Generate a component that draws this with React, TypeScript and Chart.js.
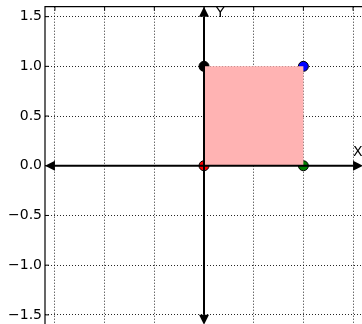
import { useEffect, useRef } from "react";
import { Chart, registerables } from "chart.js";

Chart.register(...registerables);

const axisMin = -1.6;
const axisMax = 1.6;
const tickValues = [-1.5, -1, -0.5, 0, 0.5, 1, 1.5];
const tickLabels = ["−1.5", "−1.0", "−0.5", "0.0", "0.5", "1.0", "1.5"];

const pointX = [0, 1, 0, 1];
const pointY = [1, 1, 0, 0];
const pointColors = ["#000000", "#0000ff", "#ff0000", "#007f00"];

const polygonX = [0, 1, 1, 0];
const polygonY = [0, 0, 1, 1];

const arrowEnds = [-1.5, 1.5];
const arrowHeadLength = 0.1;
const arrowHeadHalfWidth = 0.05;

const labelTexts = ["X", "Y"];
const labelX = [1.5, 0.12];
const labelY = [0.1, 1.5];

const FONT = "DejaVu Sans";

export default function App() {
  const ref = useRef<HTMLCanvasElement | null>(null);

  useEffect(() => {
    const canvas = ref.current!;
    const overlay = {
      id: "overlay",
      afterDraw(chart: any) {
        const ctx = chart.ctx as CanvasRenderingContext2D;
        const xs = chart.scales.x;
        const ys = chart.scales.y;
        const a = chart.chartArea;
        ctx.save();
        // frame
        ctx.strokeStyle = "#000";
        ctx.lineWidth = 1.2;
        ctx.beginPath();
        ctx.moveTo(a.left, a.bottom);
        ctx.lineTo(a.left, a.top);
        ctx.lineTo(a.right, a.top);
        ctx.lineTo(a.right, a.bottom);
        ctx.stroke();
        // inward ticks
        ctx.lineWidth = 1;
        ctx.beginPath();
        tickValues.forEach((v) => {
          const py = ys.getPixelForValue(v);
          ctx.moveTo(a.left, py);
          ctx.lineTo(a.left + 4, py);
          const px = xs.getPixelForValue(v);
          ctx.moveTo(px, a.top);
          ctx.lineTo(px, a.top + 4);
        });
        ctx.stroke();
        // arrows
        ctx.fillStyle = "#000";
        ctx.lineWidth = 2;
        arrowEnds.forEach((end) => {
          const dir = Math.sign(end);
          const x0 = xs.getPixelForValue(0);
          const xb = xs.getPixelForValue(end);
          const xt = xs.getPixelForValue(end + dir * arrowHeadLength);
          const y0 = ys.getPixelForValue(0);
          const hw = Math.abs(ys.getPixelForValue(arrowHeadHalfWidth) - y0);
          ctx.beginPath();
          ctx.moveTo(x0, y0);
          ctx.lineTo(xb, y0);
          ctx.stroke();
          ctx.beginPath();
          ctx.moveTo(xt, y0);
          ctx.lineTo(xb, y0 - hw);
          ctx.lineTo(xb, y0 + hw);
          ctx.closePath();
          ctx.fill();
          const yb = ys.getPixelForValue(end);
          const yt = ys.getPixelForValue(end + dir * arrowHeadLength);
          const hwx = Math.abs(xs.getPixelForValue(arrowHeadHalfWidth) - x0);
          ctx.beginPath();
          ctx.moveTo(x0, y0);
          ctx.lineTo(x0, yb);
          ctx.stroke();
          ctx.beginPath();
          ctx.moveTo(x0, yt);
          ctx.lineTo(x0 - hwx, yb);
          ctx.lineTo(x0 + hwx, yb);
          ctx.closePath();
          ctx.fill();
        });
        // labels
        ctx.font = `14px "${FONT}"`;
        ctx.textAlign = "left";
        ctx.textBaseline = "alphabetic";
        labelTexts.forEach((t, i) => {
          ctx.fillText(t, xs.getPixelForValue(labelX[i]), ys.getPixelForValue(labelY[i]));
        });
        ctx.restore();
      },
    };

    const gridOpts = {
      color: "rgba(0,0,0,0.85)",
      lineWidth: 1,
      drawTicks: false,
    };

    const chart = new Chart(canvas, {
      type: "scatter",
      data: {
        datasets: [
          {
            type: "line",
            data: polygonX.map((x, i) => ({ x, y: polygonY[i] })),
            backgroundColor: "rgb(255,179,179)",
            borderWidth: 0,
            borderColor: "rgba(0,0,0,0)",
            pointRadius: 0,
            fill: "shape",
            order: 1,
          } as any,
          {
            type: "scatter",
            data: pointX.map((x, i) => ({ x, y: pointY[i] })),
            backgroundColor: pointColors,
            borderColor: "#000",
            borderWidth: 1,
            pointRadius: 5,
            order: 2,
          },
        ],
      },
      options: {
        animation: false,
        responsive: false,
        events: [],
        layout: { autoPadding: false, padding: { top: 6.7, left: 0, right: 3, bottom: 5.2 } },
        plugins: { legend: { display: false }, tooltip: { enabled: false } },
        scales: {
          x: {
            type: "linear",
            min: axisMin,
            max: axisMax,
            z: 1,
            afterBuildTicks: (s: any) => {
              s.ticks = tickValues.map((value) => ({ value }));
            },
            afterFit: (s: any) => {
              s.height = 0;
            },
            ticks: { display: false },
            grid: gridOpts,
            border: { display: false, dash: [1, 2] },
          },
          y: {
            type: "linear",
            min: axisMin,
            max: axisMax,
            z: 1,
            afterBuildTicks: (s: any) => {
              s.ticks = tickValues.map((value) => ({ value }));
            },
            afterFit: (s: any) => {
              s.width = 45;
              s.paddingTop = 0;
              s.paddingBottom = 0;
            },
            ticks: {
              padding: 3,
              color: "#000",
              font: { family: FONT, size: 14 },
              callback: (_v: any, i: number) => tickLabels[i],
            },
            grid: gridOpts,
            border: { display: false, dash: [1, 2] },
          },
        } as any,
      },
      plugins: [overlay],
    });
    return () => chart.destroy();
  }, []);

  return (
    <div
      style={{
        position: "fixed",
        left: 0,
        top: 0,
        width: 362,
        height: 324,
        overflow: "hidden",
        background: "#fff",
      }}
    >
      <canvas ref={ref} width={366} height={330} style={{ display: "block" }} />
    </div>
  );
}
